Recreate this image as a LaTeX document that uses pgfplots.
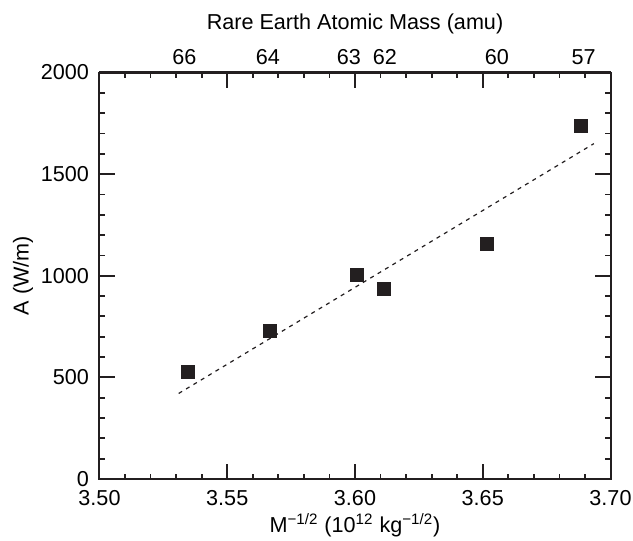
\documentclass[border=0pt]{standalone}
\usepackage{fontspec}
\setmainfont{Liberation Sans}
\usepackage{pgfplots}
\pgfplotsset{compat=1.18}

\definecolor{ink}{HTML}{231F20}

\begin{document}
\fontsize{10.8}{13}\selectfont
\begin{tikzpicture}
  \begin{axis}[
      scale only axis, width=255.5pt, height=203.25pt,
      xmin=3.50, xmax=3.70, ymin=0, ymax=2000,
      xtick={3.50,3.55,...,3.70}, minor x tick num=4,
      ytick={0,500,...,2000}, minor y tick num=4,
      tick align=inside, tick pos=both,
      major tick length=7.5pt, minor tick length=2.6pt,
      axis line style={line width=1pt, color=ink},
      every tick/.style={line width=0.9pt, color=ink},
      x tick label style={yshift=-2pt, /pgf/number format/.cd, fixed, fixed zerofill, precision=2},
      y tick label style={xshift=-1.5pt, /pgf/number format/.cd, 1000 sep={}},
      /pgf/number format/assume math mode=true,
      xticklabel pos=bottom, yticklabel pos=left,
      xlabel={M\textsuperscript{−1/2} (10\textsuperscript{12} kg\textsuperscript{−1/2})},
      ylabel={A (W/m)},
      xlabel style={yshift=3.5pt},
      ylabel style={yshift=-3.5pt},
      clip=false,
    ]
    \addplot[ink, line width=0.6pt, dash pattern=on 2pt off 2.3pt]
      coordinates {(3.531,421) (3.6935,1650)};
    \addplot[only marks, mark=square*, mark size=3.2pt, color=ink]
      coordinates {(3.5346,526) (3.5667,728) (3.6008,1004) (3.6114,935) (3.6517,1156) (3.6885,1737)};
    \coordinate (sw) at (rel axis cs:0,0);
    \coordinate (ne) at (rel axis cs:1,1);
  \end{axis}
  \begin{axis}[
      scale only axis, width=255.5pt, height=203.25pt,
      xmin=3.50, xmax=3.70, ymin=0, ymax=2000,
      axis x line*=top, axis y line=none,
      axis line style={line width=1pt, color=ink, -},
      xtick={3.5332,3.5659,3.5976,3.6117,3.6555,3.6895},
      xticklabels={66,64,63,62,60,57},
      major tick length=0pt,
      xlabel={Rare Earth Atomic Mass (amu)},
      xlabel style={yshift=0.5pt},
    ]
  \end{axis}
  \pgfresetboundingbox
  \path[use as bounding box] ([shift={(-49.75pt,-31pt)}]sw) rectangle ([shift={(11.25pt,36.25pt)}]ne);
\end{tikzpicture}
\end{document}
